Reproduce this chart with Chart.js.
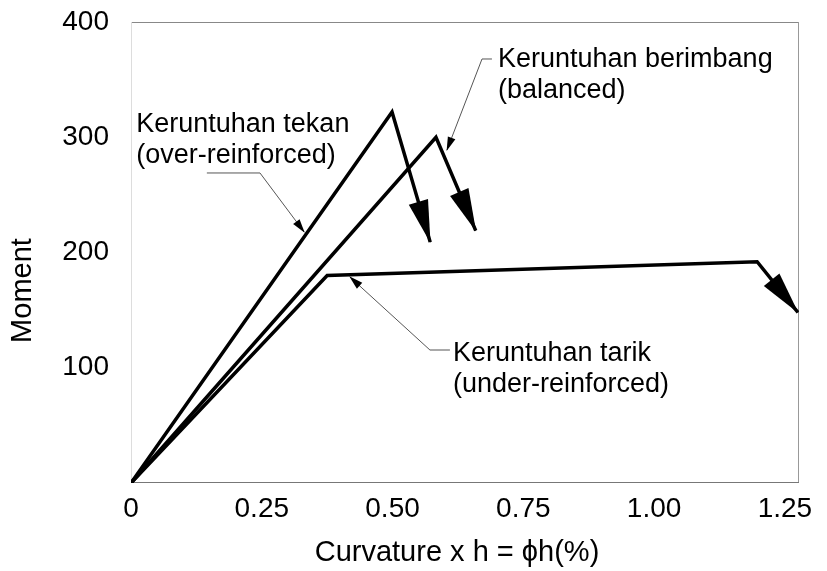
<!DOCTYPE html>
<html>
<head>
<meta charset="utf-8">
<script src="https://cdn.jsdelivr.net/npm/chart.js@4"></script>
<style>
  html, body { margin: 0; padding: 0; background: #fff; }
</style>
</head>
<body>
<canvas id="chart" width="827" height="571"></canvas>
<script>
// moment vs curvature
const overX = [0, 0.499, 0.572]
const overY = [0, 322, 209]
const balX = [0, 0.583, 0.659]
const balY = [0, 300, 219]
const underX = [0, 0.375, 1.197, 1.275]
const underY = [0, 180, 192, 148]

const xTicks = [0, 0.25, 0.5, 0.75, 1.0, 1.25]
const yTicks = [100, 200, 300, 400]
const xMax = 1.277
const yMax = 400

const xTitle = 'Curvature x h = ϕh(%)'
const yTitle = 'Moment'

// callout texts with their leader lines (data units)
const noteText = [
  ['Keruntuhan tekan', '(over-reinforced)'],
  ['Keruntuhan berimbang', '(balanced)'],
  ['Keruntuhan tarik', '(under-reinforced)']
]
const noteAt = [[0.01, 304.6], [0.7015, 361], [0.6154, 106]]
const noteLeader = [
  [[0.145, 269], [0.2466, 269], [0.331, 217.8]],
  [[0.690, 367.9], [0.671, 367.9], [0.604, 288.9]],
  [[0.6097, 115.4], [0.5715, 115.4], [0.4186, 178.7]]
]

const FONT = '"Liberation Sans", Arial, sans-serif'

const toPts = (xs, ys) => xs.map((x, i) => ({ x, y: ys[i] }))

function arrowHead(ctx, from, to, len, half) {
  const a = Math.atan2(to.y - from.y, to.x - from.x)
  ctx.save()
  ctx.translate(to.x, to.y)
  ctx.rotate(a)
  ctx.beginPath()
  ctx.moveTo(1, 0)
  ctx.lineTo(-len, -half)
  ctx.lineTo(-len, half)
  ctx.closePath()
  ctx.fill()
  ctx.restore()
}

const frame = {
  id: 'frame',
  beforeDatasetsDraw(chart) {
    const { ctx, chartArea: a } = chart
    ctx.save()
    ctx.lineWidth = 1
    const seg = (x1, y1, x2, y2, c) => {
      ctx.strokeStyle = c
      ctx.beginPath(); ctx.moveTo(x1, y1); ctx.lineTo(x2, y2); ctx.stroke()
    }
    seg(a.left, a.top + 0.5, a.right, a.top + 0.5, '#888')
    seg(a.right - 0.5, a.top, a.right - 0.5, a.bottom, '#999')
    seg(a.left, a.bottom - 0.5, a.right, a.bottom - 0.5, '#777')
    seg(a.left + 0.5, a.top, a.left + 0.5, a.bottom, '#ddd')
    ctx.restore()
  }
}

const arrows = {
  id: 'arrows',
  afterDatasetsDraw(chart) {
    const ctx = chart.ctx
    ctx.save()
    ctx.fillStyle = '#000'
    chart.data.datasets.forEach((ds, i) => {
      const pts = chart.getDatasetMeta(i).data
      const n = pts.length
      arrowHead(ctx, pts[n - 2], pts[n - 1], 42, 10)
    })
    ctx.restore()
  }
}

const notes = {
  id: 'notes',
  afterDraw(chart) {
    const { ctx, chartArea: a } = chart
    const sx = chart.scales.x, sy = chart.scales.y
    const px = p => ({ x: sx.getPixelForValue(p[0]), y: sy.getPixelForValue(p[1]) })
    ctx.save()
    // leaders
    ctx.strokeStyle = '#555'
    ctx.fillStyle = '#000'
    ctx.lineWidth = 1
    noteLeader.forEach(line => {
      const p = line.map(px)
      ctx.beginPath()
      p.forEach((q, k) => k ? ctx.lineTo(q.x, q.y) : ctx.moveTo(q.x, q.y))
      ctx.stroke()
      arrowHead(ctx, p[p.length - 2], p[p.length - 1], 13, 4)
    })
    // callout text
    ctx.font = '27px ' + FONT
    ctx.textAlign = 'left'
    ctx.textBaseline = 'alphabetic'
    noteText.forEach((lines, i) => {
      const p = px(noteAt[i])
      lines.forEach((t, k) => ctx.fillText(t, p.x, p.y + k * 31))
    })
    // axis titles
    ctx.font = '29px ' + FONT
    ctx.textAlign = 'center'
    ctx.textBaseline = 'middle'
    ctx.fillText(xTitle, (a.left + a.right) / 2 - 8, a.bottom + 70)
    ctx.translate(a.left - 108, (a.top + a.bottom) / 2 + 38)
    ctx.rotate(-Math.PI / 2)
    ctx.fillText(yTitle, 0, 0)
    ctx.restore()
  }
}

const line = (data) => ({
  data,
  borderColor: '#000',
  borderWidth: 3.5,
  pointRadius: 0,
  tension: 0,
  fill: false
})

new Chart(document.getElementById('chart').getContext('2d'), {
  type: 'scatter',
  data: {
    datasets: [
      line(toPts(overX, overY)),
      line(toPts(balX, balY)),
      line(toPts(underX, underY))
    ]
  },
  options: {
    responsive: false,
    animation: false,
    showLine: true,
    layout: { padding: { top: 22, right: 28, left: 0, bottom: 0 } },
    plugins: { legend: { display: false }, tooltip: { enabled: false } },
    scales: {
      x: {
        type: 'linear',
        min: 0,
        max: xMax,
        afterBuildTicks: s => { s.ticks = xTicks.map(v => ({ value: v })) },
        afterFit: s => { s.height = 88 },
        grid: { display: false, drawTicks: false },
        border: { display: false },
        ticks: {
          padding: 9,
          color: '#000',
          font: { family: FONT, size: 28 },
          maxRotation: 0,
          callback: v => v === 0 ? '0' : v.toFixed(2)
        }
      },
      y: {
        min: 0,
        max: yMax,
        afterBuildTicks: s => { s.ticks = yTicks.map(v => ({ value: v })) },
        afterFit: s => { s.width = 131; s.paddingTop = 0; s.paddingBottom = 0 },
        grid: { display: false, drawTicks: false },
        border: { display: false },
        ticks: {
          padding: 22,
          color: '#000',
          font: { family: FONT, size: 28 }
        }
      }
    }
  },
  plugins: [frame, arrows, notes]
})
</script>
</body>
</html>
